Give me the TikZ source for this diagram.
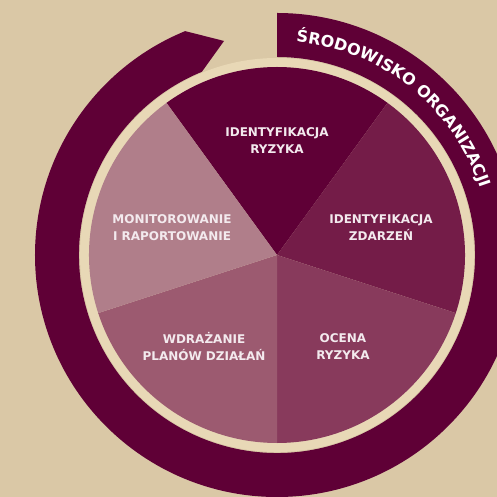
\documentclass[tikz,border=0pt]{standalone}
\usepackage{fontspec}
\setmainfont{DejaVu Sans}
\usetikzlibrary{decorations.text}
\definecolor{bgpaper}{HTML}{DAC8A6}
\definecolor{creamring}{HTML}{E8D8B6}
\definecolor{wine}{HTML}{5F0036}
\definecolor{segB}{HTML}{741C48}
\definecolor{segC}{HTML}{883A5C}
\definecolor{segD}{HTML}{9C5A70}
\definecolor{segE}{HTML}{B07E8A}
\definecolor{labtext}{HTML}{F3EAEE}

\begin{document}
\begin{tikzpicture}[
  lab/.style={text=labtext,font=\bfseries\fontsize{12}{17}\selectfont,
              align=center,inner sep=0pt}]
\useasboundingbox (-277pt,-242pt) rectangle (220pt,255pt);
\fill[bgpaper] (-277pt,-242pt) rectangle (220pt,255pt);
% outer band with arrow head
\fill[wine] (90:242pt) arc[start angle=90,end angle=-247.7,radius=242pt]
  -- (103.9:220.5pt) -- (112.3:198pt)
  arc[start angle=112.3,end angle=450,radius=198pt] -- cycle;
\fill[creamring] (0,0) circle[radius=197pt];
% five slices
\foreach \a/\col in {54/wine,-18/segB,-90/segC,198/segD,126/segE}
  \fill[\col] (0,0) -- (\a:188pt) arc[start angle=\a,delta angle=72,radius=188pt] -- cycle;
% band title
\path[decorate,decoration={text along path,text align=center,text color=white,
  text={|\bfseries\fontsize{16}{16}\selectfont|ŚRODOWISKO ORGANIZACJI}}]
  (85:214pt) arc[start angle=85,end angle=18,radius=214pt];
% labels
\node[lab] (identR) at (0pt,114pt)   {IDENTYFIKACJA\\RYZYKA};
\node[lab] (identZ) at (104pt,27pt)  {IDENTYFIKACJA\\ZDARZEŃ};
\node[lab] (ocena)  at (66pt,-92pt)  {OCENA\\RYZYKA};
\node[lab] (wdraz)  at (-73pt,-92pt) {WDRAŻANIE\\PLANÓW DZIAŁAŃ};
\node[lab] (monit)  at (-105pt,27pt) {MONITOROWANIE\\I RAPORTOWANIE};
\end{tikzpicture}
\end{document}
